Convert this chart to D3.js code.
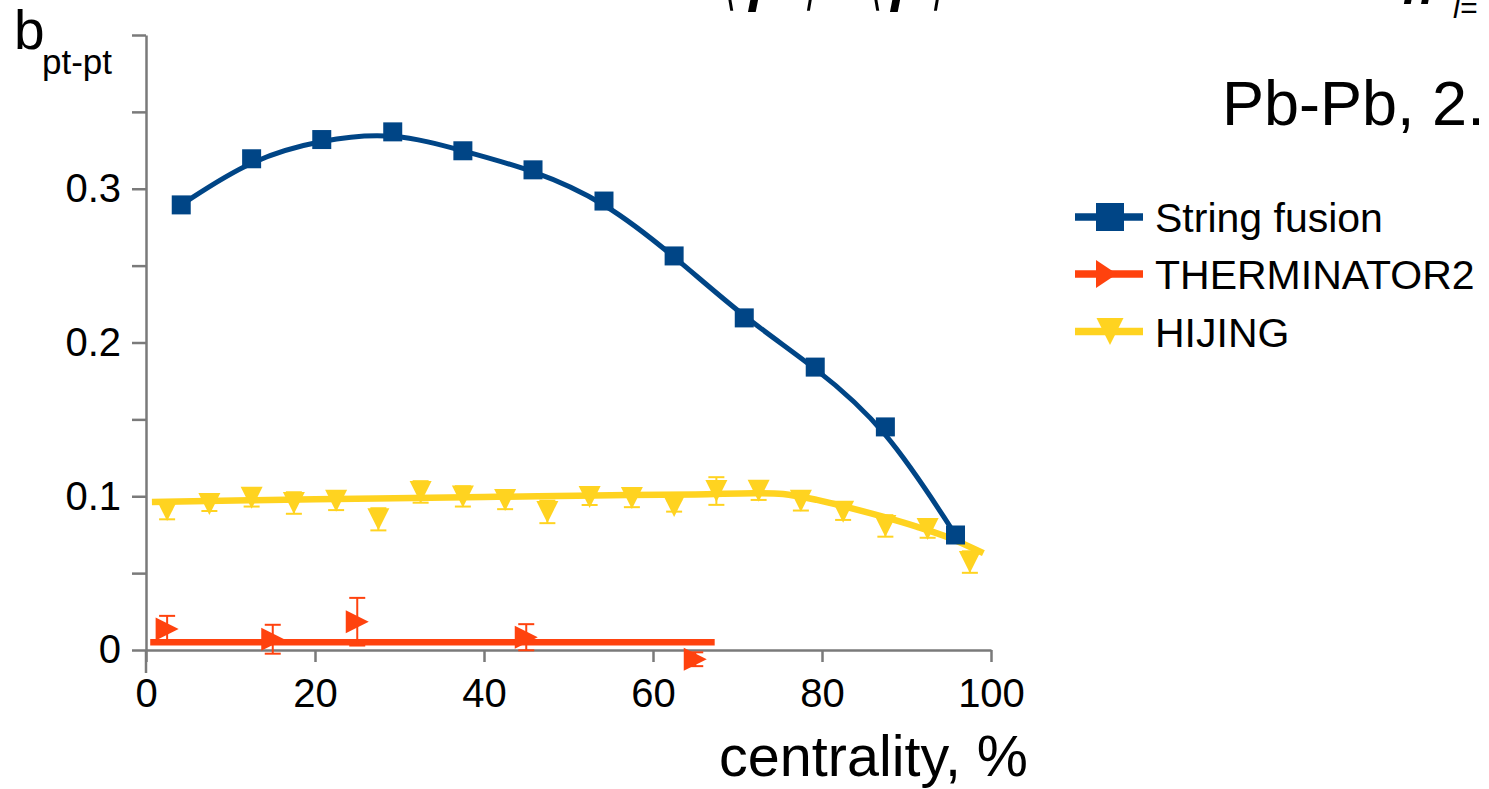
<!DOCTYPE html>
<html>
<head>
<meta charset="utf-8">
<script src="https://cdn.jsdelivr.net/npm/d3@7"></script>
<style>
  html, body { margin: 0; padding: 0; background: #ffffff; }
  svg { display: block; }
  text { font-family: "Liberation Sans", Arial, sans-serif; fill: #000; }
</style>
</head>
<body>
<svg id="chart" width="1489" height="789"></svg>
<script>
// ---------------- data ----------------
const seriesNames = ["String fusion", "THERMINATOR2", "HIJING"];

// String fusion
const sfCentrality = [4.17, 12.5, 20.8, 29.2, 37.5, 45.8, 54.2, 62.5, 70.8, 79.2, 87.5, 95.8];
const sfValues     = [0.2895, 0.3195, 0.332, 0.337, 0.3247, 0.3123, 0.292, 0.2563, 0.216, 0.184, 0.1451, 0.0748];

// THERMINATOR2
const thCentrality = [2.5, 15, 25, 45, 65];
const thValues     = [0.0137, 0.0070, 0.0184, 0.0083, -0.0060];
const thErrors     = [0.0085, 0.0094, 0.0155, 0.0085, 0.0045];
const thFitX       = [0.5, 67.3];
const thFitY       = [0.005, 0.005];

// HIJING
const hjCentrality = [2.5, 7.5, 12.5, 17.5, 22.5, 27.5, 32.5, 37.5, 42.5, 47.5,
                      52.5, 57.5, 62.5, 67.5, 72.5, 77.5, 82.5, 87.5, 92.5, 97.5];
const hjValues     = [0.091, 0.095, 0.099, 0.0956, 0.097, 0.085, 0.1028, 0.0999, 0.0976, 0.0898,
                      0.0995, 0.0989, 0.0937, 0.1034, 0.1036, 0.097, 0.090, 0.0807, 0.0787, 0.0572];
const hjErrors     = [0.006, 0.0046, 0.0057, 0.007, 0.006, 0.0072, 0.007, 0.0066, 0.006, 0.0073,
                      0.0052, 0.006, 0.0037, 0.009, 0.006, 0.0063, 0.0054, 0.007, 0.0057, 0.007];
const hjFitX       = [0.7, 20, 40, 51, 65, 72, 75.4, 79.4, 83.3, 87.2, 91.2, 95.1, 99.1];
const hjFitY       = [0.0963, 0.098, 0.0995, 0.1004, 0.1012, 0.102, 0.1015, 0.0976, 0.0924, 0.0867, 0.0802, 0.0729, 0.063];

// axes
const xTicks = [0, 20, 40, 60, 80, 100];
const yTicks = [0, 0.05, 0.1, 0.15, 0.2, 0.25, 0.3, 0.35, 0.4];
const yLabelled = [0, 0.1, 0.2, 0.3];

// ---------------- layout ----------------
const colors = { sf: "#004586", th: "#ff420e", hj: "#ffd320" };
const axisColor = "#7a7a7a";
const svg = d3.select("#chart");

const x = d3.scaleLinear().domain([0, 100]).range([146, 991]);
const y = d3.scaleLinear().domain([0, 0.4]).range([650, 35]);

// ---- axes ----
const yAxis = d3.axisLeft(y)
  .tickValues(yTicks)
  .tickSize(14)
  .tickSizeOuter(0)
  .tickPadding(11)
  .tickFormat(d => yLabelled.some(v => Math.abs(v - d) < 1e-9) ? (d === 0 ? "0" : d3.format(".1f")(d)) : "");
const gy = svg.append("g").attr("transform", "translate(146,0)").call(yAxis);
gy.select(".domain").attr("stroke", axisColor).attr("stroke-width", 2.5);
gy.selectAll(".tick line").attr("stroke", axisColor).attr("stroke-width", 2.5);
gy.selectAll(".tick text")
  .attr("font-family", "Liberation Sans, Arial, sans-serif")
  .attr("font-size", 40).attr("fill", "#000");
// extension of the vertical axis below zero
svg.append("line").attr("x1", 146).attr("x2", 146).attr("y1", y(0)).attr("y2", y(0) + 23)
  .attr("stroke", axisColor).attr("stroke-width", 2.5);

const xAxis = d3.axisBottom(x)
  .tickValues(xTicks)
  .tickSize(12)
  .tickSizeOuter(0)
  .tickPadding(17)
  .tickFormat(d3.format("d"));
const gx = svg.append("g").attr("transform", `translate(0,${y(0)})`).call(xAxis);
gx.select(".domain").attr("stroke", axisColor).attr("stroke-width", 2.5);
gx.selectAll(".tick line").attr("stroke", axisColor).attr("stroke-width", 2.5);
gx.selectAll(".tick text")
  .attr("font-family", "Liberation Sans, Arial, sans-serif")
  .attr("font-size", 40).attr("fill", "#000");

// ---- marker helpers ----
function downTri(cx, cy, w, h) {
  return `M${cx - w/2},${cy - h/2}L${cx + w/2},${cy - h/2}L${cx},${cy + h/2}Z`;
}
function rightTri(cx, cy, w, h) {
  return `M${cx - w/2},${cy - h/2}L${cx + w/2},${cy}L${cx - w/2},${cy + h/2}Z`;
}
function errorBars(g, xs, ys, es, color) {
  const data = xs.map((c, i) => ({ c, v: ys[i], e: es[i] }));
  const eb = g.append("g").attr("stroke", color).attr("stroke-width", 2);
  eb.selectAll("line.v").data(data).enter().append("line")
    .attr("x1", d => x(d.c)).attr("x2", d => x(d.c))
    .attr("y1", d => y(d.v - d.e)).attr("y2", d => y(d.v + d.e));
  eb.selectAll("line.t").data(data).enter().append("line")
    .attr("x1", d => x(d.c) - 8).attr("x2", d => x(d.c) + 8)
    .attr("y1", d => y(d.v + d.e)).attr("y2", d => y(d.v + d.e));
  eb.selectAll("line.b").data(data).enter().append("line")
    .attr("x1", d => x(d.c) - 8).attr("x2", d => x(d.c) + 8)
    .attr("y1", d => y(d.v - d.e)).attr("y2", d => y(d.v - d.e));
}

const plot = svg.append("g");

// ---- HIJING ----
const hjLine = d3.line().x(d => x(d[0])).y(d => y(d[1])).curve(d3.curveCatmullRom.alpha(0.5));
plot.append("path").datum(hjFitX.map((c, i) => [c, hjFitY[i]]))
  .attr("d", hjLine).attr("fill", "none").attr("stroke", colors.hj)
  .attr("stroke-width", 6.5).attr("stroke-linejoin", "round").attr("stroke-linecap", "butt");
errorBars(plot, hjCentrality, hjValues, hjErrors, colors.hj);
plot.append("g").selectAll("path").data(hjCentrality.map((c, i) => [c, hjValues[i]])).enter()
  .append("path").attr("d", d => downTri(x(d[0]), y(d[1]), 22, 22)).attr("fill", colors.hj);

// ---- THERMINATOR2 ----
plot.append("path").datum(thFitX.map((c, i) => [c, thFitY[i]]))
  .attr("d", d3.line().x(d => x(d[0])).y(d => y(d[1])))
  .attr("fill", "none").attr("stroke", colors.th).attr("stroke-width", 6.5);
errorBars(plot, thCentrality, thValues, thErrors, colors.th);
plot.append("g").selectAll("path").data(thCentrality.map((c, i) => [c, thValues[i]])).enter()
  .append("path").attr("d", d => rightTri(x(d[0]), y(d[1]), 23, 23)).attr("fill", colors.th);

// ---- String fusion (B-spline smoothed line) ----
const sfLine = d3.line().x(d => x(d[0])).y(d => y(d[1])).curve(d3.curveBasis);
plot.append("path").datum(sfCentrality.map((c, i) => [c, sfValues[i]]))
  .attr("d", sfLine).attr("fill", "none").attr("stroke", colors.sf)
  .attr("stroke-width", 5).attr("stroke-linejoin", "round");
plot.append("g").selectAll("rect").data(sfCentrality.map((c, i) => [c, sfValues[i]])).enter()
  .append("rect")
  .attr("x", d => x(d[0]) - 9.5).attr("y", d => y(d[1]) - 9.5)
  .attr("width", 19).attr("height", 19).attr("fill", colors.sf);

// ---- legend ----
const legend = svg.append("g");
const legRows = [
  { name: seriesNames[0], color: colors.sf, cy: 217, shape: "sq" },
  { name: seriesNames[1], color: colors.th, cy: 274, shape: "rt" },
  { name: seriesNames[2], color: colors.hj, cy: 331.5, shape: "dt" }
];
legRows.forEach(r => {
  legend.append("line").attr("x1", 1075).attr("x2", 1143).attr("y1", r.cy).attr("y2", r.cy)
    .attr("stroke", r.color).attr("stroke-width", 7.5);
  if (r.shape === "sq") {
    legend.append("rect").attr("x", 1096).attr("y", r.cy - 14).attr("width", 28).attr("height", 28).attr("fill", r.color);
  } else if (r.shape === "rt") {
    legend.append("path").attr("d", rightTri(1106.5, r.cy, 21, 28)).attr("fill", r.color);
  } else {
    legend.append("path").attr("d", downTri(1110, r.cy, 27, 27)).attr("fill", r.color);
  }
  legend.append("text").attr("x", 1155).attr("y", r.cy + 15).attr("font-size", 41).text(r.name);
});

// ---- texts ----
svg.append("text").attr("x", 14).attr("y", 49).attr("font-size", 55).text("b");
svg.append("text").attr("x", 42).attr("y", 74).attr("font-size", 35).text("pt-pt");
svg.append("text").attr("x", 1028).attr("y", 776).attr("text-anchor", "end").attr("font-size", 57.5).text("centrality, %");
svg.append("text").attr("x", 1222).attr("y", 125).attr("font-size", 63).text("Pb-Pb, 2.");

// cropped formula fragments at the top edge
const serif = "DejaVu Serif, Liberation Serif, serif";
function frag(txt, xx, yy, fs, opts = {}) {
  const t = svg.append("text").attr("x", xx).attr("y", yy).attr("font-size", fs)
    .attr("font-family", opts.family || serif).text(txt);
  if (opts.italic) t.attr("font-style", "italic");
  if (opts.bold) t.attr("font-weight", "bold");
  if (opts.transform) t.attr("transform", opts.transform);
  return t;
}
frag("\u27E8", 722, 2, 66, { transform: "translate(722,0) scale(0.55,1) translate(-722,0)" });
frag("P", 747, 12, 54, { italic: true, family: "Liberation Serif, serif", bold: true });
frag("\u27E9", 804, 2, 66, { transform: "translate(804,0) scale(0.55,1) translate(-804,0)" });
frag("\u27E8", 868, 2, 66, { transform: "translate(868,0) scale(0.55,1) translate(-868,0)" });
frag("P", 889, 12, 54, { italic: true, family: "Liberation Serif, serif", bold: true });
frag("\u27E9", 931, 2, 66, { transform: "translate(931,0) scale(0.55,1) translate(-931,0)" });
frag("n", 1403, 4, 50, { italic: true, bold: true, family: "DejaVu Sans, sans-serif" });
frag("l=", 1453, 18, 30, { italic: true, family: "DejaVu Sans, sans-serif" });
</script>
</body>
</html>
